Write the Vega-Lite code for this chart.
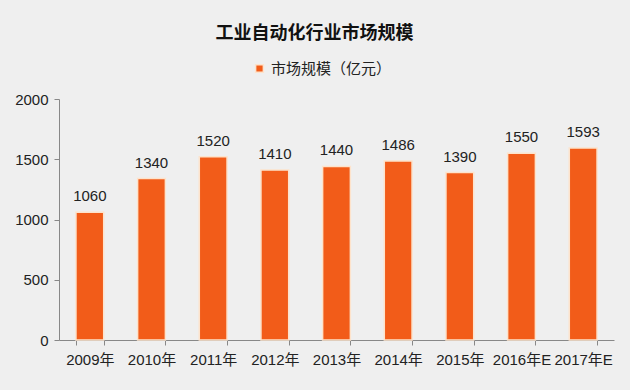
{
  "$schema": "https://vega.github.io/schema/vega-lite/v6.json",
  "width": 555,
  "height": 241,
  "autosize": {"type": "none"},
  "padding": {"left": 59, "top": 99, "right": 16, "bottom": 50},
  "background": "#efefef",
  "title": {
    "text": "工业自动化行业市场规模",
    "anchor": "middle",
    "offset": 18,
    "dx": -22,
    "fontSize": 18,
    "fontWeight": "bold",
    "font": "Noto Sans CJK SC",
    "color": "#111111"
  },
  "data": {
    "values": [
      {"year": "2009年", "value": 1060, "series": "市场规模（亿元）"},
      {"year": "2010年", "value": 1340, "series": "市场规模（亿元）"},
      {"year": "2011年", "value": 1520, "series": "市场规模（亿元）"},
      {"year": "2012年", "value": 1410, "series": "市场规模（亿元）"},
      {"year": "2013年", "value": 1440, "series": "市场规模（亿元）"},
      {"year": "2014年", "value": 1486, "series": "市场规模（亿元）"},
      {"year": "2015年", "value": 1390, "series": "市场规模（亿元）"},
      {"year": "2016年E", "value": 1550, "series": "市场规模（亿元）"},
      {"year": "2017年E", "value": 1593, "series": "市场规模（亿元）"}
    ]
  },
  "encoding": {
    "x": {
      "field": "year",
      "type": "nominal",
      "sort": null,
      "scale": {"paddingInner": 0.55, "paddingOuter": 0.275},
      "axis": {
        "title": null,
        "labelAngle": 0,
        "labelFontSize": 15,
        "labelFont": "Liberation Sans, Noto Sans CJK SC",
        "labelColor": "#222222",
        "labelPadding": 7,
        "domainColor": "#888888",
        "tickColor": "#888888",
        "tickBand": "extent",
        "tickSize": 5,
        "grid": false
      }
    },
    "y": {
      "field": "value",
      "type": "quantitative",
      "scale": {"domain": [0, 2000]},
      "axis": {
        "title": null,
        "values": [0, 500, 1000, 1500, 2000],
        "format": "d",
        "labelFontSize": 15,
        "labelFont": "Liberation Sans, Noto Sans CJK SC",
        "labelColor": "#222222",
        "labelPadding": 6,
        "domainColor": "#888888",
        "tickColor": "#888888",
        "tickSize": 5,
        "grid": false
      }
    }
  },
  "layer": [
    {
      "mark": {"type": "bar", "stroke": "#fde3cc", "strokeWidth": 1.5},
      "encoding": {
        "color": {
          "field": "series",
          "type": "nominal",
          "scale": {"range": ["#f25c19"]},
          "legend": {
            "title": null,
            "orient": "none",
            "legendX": 193,
            "legendY": -38,
            "symbolType": "square",
            "symbolSize": 60,
            "labelFontSize": 15,
            "labelFont": "Noto Sans CJK SC",
            "labelColor": "#222222"
          }
        }
      }
    },
    {
      "mark": {"type": "text", "dy": -16, "fontSize": 15, "font": "Liberation Sans", "color": "#222222"},
      "encoding": {"text": {"field": "value", "type": "quantitative", "format": "d"}}
    }
  ],
  "config": {"view": {"stroke": null}}
}
